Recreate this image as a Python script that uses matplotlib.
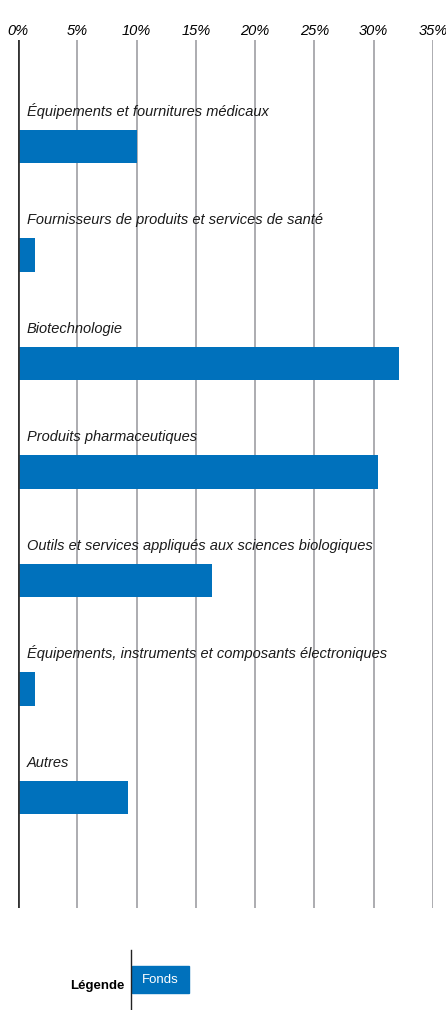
import matplotlib
matplotlib.use("Agg")
import matplotlib.pyplot as plt
from matplotlib.patches import Rectangle
from matplotlib.lines import Line2D

plt.rcParams['font.family'] = ['Liberation Sans', 'DejaVu Sans']

# Répartition sectorielle du fonds (%)
secteurs = [
    "Équipements et fournitures médicaux",
    "Fournisseurs de produits et services de santé",
    "Biotechnologie",
    "Produits pharmaceutiques",
    "Outils et services appliqués aux sciences biologiques",
    "Équipements, instruments et composants électroniques",
    "Autres",
]
poids = [10.0, 1.4, 32.1, 30.4, 16.4, 1.4, 9.3]
graduations = [0, 5, 10, 15, 20, 25, 30, 35]
legende_serie = "Fonds"

BLEU = "#0071bc"
W, H = 446, 1010

fig = plt.figure(figsize=(W / 100, H / 100), dpi=100)
ax = fig.add_axes([18 / W, 1 - 908 / H, (433 - 18) / W, (908 - 40) / H])

pos = list(range(len(secteurs)))
ax.barh(pos, poids, height=0.31, color=BLEU, zorder=3)

for i, nom in enumerate(secteurs):
    ax.text(0.75, i - 0.28, nom, style='italic', fontsize=10.5,
            va='baseline', ha='left', color='#1a1a1a', zorder=4)

ax.set_xlim(0, 35)
ax.set_ylim(7.02, -0.98)

# grille verticale
for g in graduations[1:]:
    ax.axvline(g, color='#acacb0', lw=1.4, zorder=1)
ax.axvline(0, color='#333333', lw=2, zorder=5)

ax.xaxis.tick_top()
ax.set_xticks(graduations)
ax.set_xticklabels([f"{g}%" for g in graduations], style='italic', fontsize=10.5)
ax.tick_params(axis='x', length=0, pad=1.5)
ax.set_yticks([])
for s in ax.spines.values():
    s.set_visible(False)

# légende
fig.text(124 / W, 1 - 986 / H, "Légende", fontsize=9.5, fontweight='bold',
         ha='right', va='center')
fig.add_artist(Line2D([131 / W, 131 / W], [0, 1 - 950 / H], color='#222222', lw=1,
                      transform=fig.transFigure))
fig.add_artist(Rectangle((132 / W, 1 - 993 / H), 57 / W, 27 / H, color=BLEU,
                         transform=fig.transFigure))
fig.text(160 / W, 1 - 980 / H, legende_serie, fontsize=9.5, color='white',
         ha='center', va='center')

fig.savefig("out.png", dpi=100)
